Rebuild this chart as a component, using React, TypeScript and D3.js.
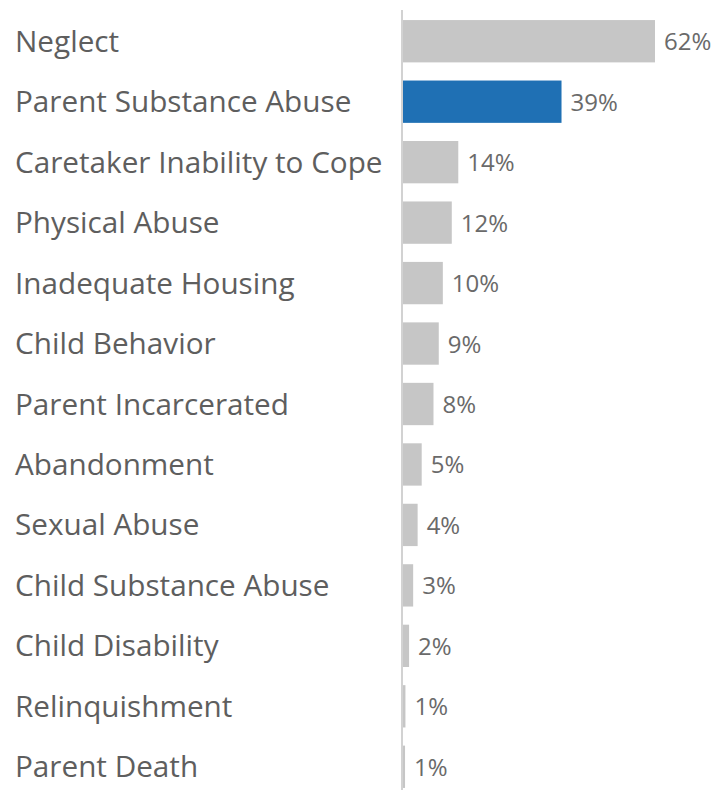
import React from "react";
import * as d3 from "d3";

const categories = [
  "Neglect",
  "Parent Substance Abuse",
  "Caretaker Inability to Cope",
  "Physical Abuse",
  "Inadequate Housing",
  "Child Behavior",
  "Parent Incarcerated",
  "Abandonment",
  "Sexual Abuse",
  "Child Substance Abuse",
  "Child Disability",
  "Relinquishment",
  "Parent Death",
];
const values = [62, 39, 13.6, 12, 9.8, 8.8, 7.5, 4.6, 3.6, 2.5, 1.5, 0.6, 0.5];
const valueLabels = ["62%", "39%", "14%", "12%", "10%", "9%", "8%", "5%", "4%", "3%", "2%", "1%", "1%"];
const highlighted = ["Parent Substance Abuse"];

const W = 720;
const H = 790;
const axisX = 402;

export default function App() {
  const x = d3.scaleLinear().domain([0, 62]).range([axisX + 1, axisX + 253]);
  const y = d3
    .scaleBand<string>()
    .domain(categories)
    .range([11, 797])
    .paddingInner(0.3)
    .paddingOuter(0.15);
  const bw = y.bandwidth();

  return (
    <svg
      width={W}
      height={H}
      style={{ position: "absolute", left: 0, top: 0, background: "#fff" }}
      fontFamily="'Open Sans', 'Noto Sans', sans-serif"
    >
      <line x1={axisX} x2={axisX} y1={10} y2={H} stroke="#d2d2d2" strokeWidth={2} />
      {categories.map((c, i) => {
        const yc = (y(c) as number) + bw / 2;
        return (
          <g key={c}>
            <text x={15} y={yc + 10.5} fontSize={29.7} fill="#5e5e5e">
              {c}
            </text>
            <rect
              x={x(0)}
              y={y(c)}
              width={Math.max(0, x(values[i]) - x(0))}
              height={bw}
              fill={highlighted.includes(c) ? "#1f70b4" : "#c6c6c6"}
            />
            <text x={x(values[i]) + 9} y={yc + 9} fontSize={24} fill="#6a6a6a">
              {valueLabels[i]}
            </text>
          </g>
        );
      })}
    </svg>
  );
}
